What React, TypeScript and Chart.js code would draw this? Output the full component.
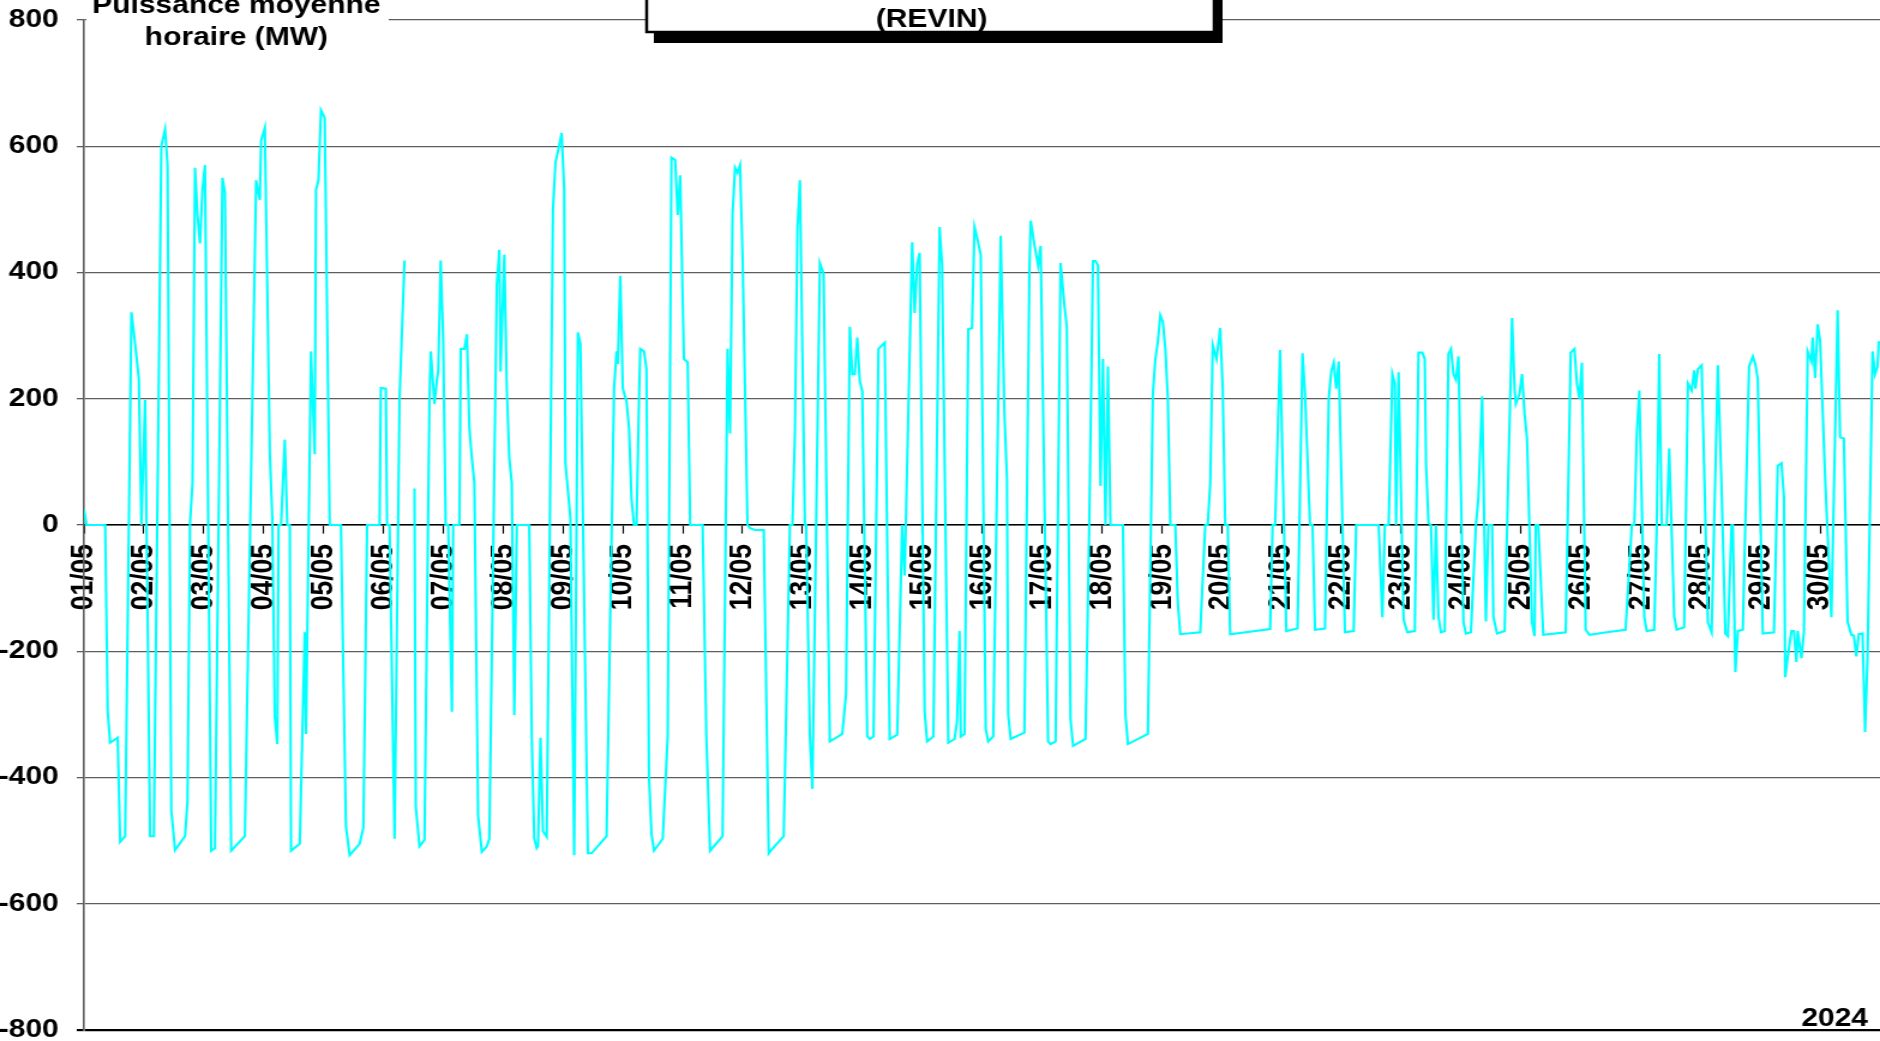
import React, { useEffect, useRef } from "react";
import { Chart, registerables } from "chart.js";

Chart.register(...registerables);

const FONT = "'Liberation Sans', Arial, sans-serif";

// Day tick labels (one tick every 24 h)
const dayLabels = [
  "01/05", "02/05", "03/05", "04/05", "05/05", "06/05", "07/05", "08/05", "09/05", "10/05",
  "11/05", "12/05", "13/05", "14/05", "15/05", "16/05", "17/05", "18/05", "19/05", "20/05",
  "21/05", "22/05", "23/05", "24/05", "25/05", "26/05", "27/05", "28/05", "29/05", "30/05",
];

const yTicks = [-800, -600, -400, -200, 0, 200, 400, 600, 800];

// Hourly mean power (MW), [hour since 01/05 00:00, MW]; null = missing hours
const week1: [number, number | null][] = [
  [0, 25], [1, 0], [8.5, 0], [9.5, -296], [10.5, -345], [13.5, -337], [14.5, -502], [16.5, -493],
  [19, 337], [20.5, 287], [22, 231], [23, 0], [24.5, 198], [26.5, -493], [28, -493], [31, 600],
  [32.5, 627], [33.5, 570], [35, -452], [36.5, -515], [40.5, -493], [41.5, -437], [42.5, 3], [43.5, 66],
  [44.5, 566], [45.5, 491], [46.5, 446], [47.5, 531], [48.5, 570], [51, -516], [52.5, -512], [55.5, 550],
  [56.5, 527], [59, -516], [64.5, -493], [69, 546], [70.5, 515], [71, 609], [72.5, 629], [74.5, 113],
  [75.5, 11], [76.5, -304], [77.5, -347], [78, 0], [79, 0], [80.5, 135], [81.5, 0], [82.5, 0],
  [83, -516], [86.5, -505], [88.5, -170], [89, -331], [91, 275], [92.5, 112], [93, 531], [94, 546],
  [95, 657], [96.5, 645], [98.5, 0], [103, 0], [105, -477], [106.5, -523], [110.5, -505], [112, -480],
  [113.5, 0], [118.5, 0], [119, 217], [121, 216], [121.5, 0], [122.5, 0], [124.5, -497], [126.5, 200],
  [128.5, 419], [130, null], [132.5, 58], [133, -446], [134.5, -509], [136.5, -499], [138.5, 200], [139, 275],
  [140.5, 192], [141.5, 231], [142, 243], [143, 419], [144, 294], [145, 0], [146, 0], [147.5, -296],
  [148, 0], [150.5, 0], [151, 279], [152.5, 279], [153.5, 302], [154.5, 153], [155.5, 106], [156.5, 66],
  [158, -461], [159.5, -518], [161.5, -509], [162.5, -497], [165.5, 381], [166.5, 436], [167, 243],
];

const week2: [number, number | null][] = [
  [168.5, 428], [169.5, 216], [170.5, 106], [171.5, 66], [172.5, -301], [173.5, 0], [178.5, 0], [179.5, -335],
  [180.5, -497], [181.5, -512], [182, -509], [183, -337], [184, -485], [185.5, -494], [188, 499], [189, 574],
  [190.5, 601], [191.5, 621], [192.5, 531], [193, 98], [195, 11], [196.5, -523], [198, 305], [199, 287],
  [202, -520], [203.5, -520], [209.5, -493], [212.5, 216], [213.5, 275], [214, 255], [215, 395], [216, 216],
  [217.5, 196], [218.5, 153], [219.5, 41], [220.5, 0], [221.5, 0], [222.5, 200], [223, 279], [224.5, 275],
  [225.5, 247], [226.5, -398], [227.5, -489], [228.5, -516], [232, -497], [234, -335], [235.5, 582], [237, 578],
  [238, 491], [239, 554], [240.5, 263], [242, 258], [243, 0], [248, 0], [249.5, -335], [251, -516],
  [256, -493], [258, 279], [259, 145], [260, 491], [261, 566], [262, 558], [263, 570], [264, 428],
  [266, 0], [267, -5], [269, -8], [272.5, -8], [274.5, -520], [275.5, -515], [280.5, -493], [283, 0],
  [284, 0], [285, 145], [286, 468], [287, 546], [289, 0], [289.5, 0], [291, -335], [292, -418],
  [295, 415], [296.5, 398], [299, -343], [304, -331], [305.5, -268], [307, 314], [308, 239], [309, 239],
  [310, 297], [311, 228], [312, 212], [314, -335], [315, -339], [316.5, -335], [318.5, 279], [319.5, 283],
  [321, 289], [323, -339], [326, -332], [328, 0], [329, -80], [332, 448], [333, 336], [334, 413], [335, 431],
];

const week3: [number, number | null][] = [
  [337, -296], [338, -343], [340.5, -335], [343, 472], [344, 413], [346.5, -345], [349, -339], [350, -312],
  [351, -168], [351.5, -335], [353, -331], [354.5, 310], [356, 312], [357, 472], [358, 456], [359.5, 428],
  [361.5, -324], [362.5, -343], [364.5, -335], [367.5, 458], [369, 176], [370, 74], [370.5, -300], [371.5, -339],
  [377, -329], [379, 401], [379.5, 482], [381, 444], [382.5, 411], [383.5, 442], [386.5, -343], [387.5, -347],
  [389.5, -343], [391.5, 415], [393, 350], [394, 314], [395.5, -308], [396.5, -350], [401.5, -339], [403, 0],
  [404.5, 418], [405.5, 418], [406.5, 411], [407.5, 62], [408.5, 263], [409.5, 0], [410.5, 251], [411.5, 0],
  [416.5, 0], [417.5, -300], [418.5, -347], [426.5, -331], [428.5, 208], [429.5, 263], [430.5, 291], [431.5, 332],
  [432.5, 322], [433.5, 279], [434.5, 200], [435.5, 0], [437.5, 0], [438.5, -123], [439.5, -173], [447.5, -170],
  [449.5, 0], [450.5, 0], [451.5, 66], [452.5, 285], [454, 263], [455.5, 312], [456.5, 216], [457.5, 0],
  [458.5, 0], [459.5, -173], [475.5, -165], [476.5, 0], [477.5, 0], [479.5, 277], [482, -168], [486.5, -164],
  [488.5, 272], [489.5, 208], [491.5, 0], [492.5, 0], [493.5, -166], [497.5, -164], [499, 200], [500, 243],
  [501, 257], [502, 216], [503, 259],
];

const week4: [number, number | null][] = [
  [505.5, -170], [509, -168], [510, 0], [519, 0], [520.5, -146], [521.5, 0], [523, 0], [524.5, 239],
  [525.5, 224], [526, 0], [527, 242], [529, -150], [530.5, -170], [533.5, -168], [535, 273], [536.5, 273],
  [537.5, 263], [538, 98], [539, 3], [540, 0], [541, -150], [542, 0], [543, -146], [544, -170],
  [545.5, -168], [547, 271], [548, 279], [549, 239], [550, 230], [551, 267], [553, -154], [554, -172],
  [556, -170], [558, 0], [559, 43], [560.5, 204], [562, -153], [563, 0], [564.5, 0], [565, -146],
  [566.5, -172], [569.5, -168], [572.5, 328], [573.5, 216], [574, 192], [575.5, 208], [576.5, 239], [577.5, 176],
  [578.5, 137], [580.5, -154], [581.5, -176], [582, 0], [583, 0], [585, -174], [594, -170], [596, 273],
  [597.5, 279], [598.5, 224], [599.5, 200], [600.5, 257], [602, -166], [603.5, -174], [610.5, -170], [618, -166],
  [620.5, 0], [621.5, 0], [622.5, 145], [623.5, 213], [625.5, -146], [626.5, -168], [629.5, -166], [630.5, 0],
  [631.5, 271], [632.5, 0], [634.5, 0], [635.5, 121], [637.5, -145], [638.5, -166], [641.5, -162], [643, 224],
  [644.5, 213], [645.5, 245], [646, 216], [647, 247], [648.5, 253], [651, -154], [652.5, -170], [655, 253],
  [656.5, 58], [658, -172], [659, -176], [660.5, 0], [661, 0], [662, -233], [663, -168], [665, -166],
  [667.5, 251], [669, 267], [670, 255], [671, 231],
];

const week5: [number, number | null][] = [
  [673, -172], [677.5, -170], [679, 94], [680.5, 98], [681.5, 43], [682, -241], [683, -209], [684.5, -168],
  [685.5, -168], [686.5, -217], [687, -168], [688.5, -211], [689.5, -170], [691, 275], [692.5, 259], [693, 297],
  [694, 233], [695, 318], [696, 291], [698, 74], [700.5, -146], [703, 340], [704, 139], [705.5, 137],
  [707, -153], [708.5, -174], [709.5, -175], [710.5, -208], [711.5, -173], [713, -172], [714, -328], [715, -209],
  [717, 275], [718, 239], [719, 251], [719.5, 291],
];

const titleLines = ["Puissance moyenne", "horaire (MW)"];
const chartTitle = "(REVIN)";
const yearLabel = "2024";

const CANVAS_W = 1567; // drawn width, shown stretched to 1880px
const CANVAS_H = 1041;

const overlayPlugin = {
  id: "overlay",
  afterDraw(chart: any) {
    const ctx = chart.ctx as CanvasRenderingContext2D;
    const area = chart.chartArea;
    ctx.save();
    // Y-axis title with white background over the top gridline
    ctx.fillStyle = "#ffffff";
    ctx.fillRect(area.left + 2, 0, 252, 52);
    ctx.fillStyle = "#000";
    ctx.font = `bold 25px ${FONT}`;
    ctx.textAlign = "center";
    ctx.textBaseline = "alphabetic";
    ctx.fillText(titleLines[0], 197, 13);
    ctx.fillText(titleLines[1], 197, 45);

    // Title box with shadow
    const bx0 = 539, bx1 = 1012, by0 = -20, by1 = 32;
    ctx.fillStyle = "#000";
    ctx.fillRect(bx0 + 6, by0, bx1 - bx0 + 1, by1 - by0 + 11);
    ctx.fillStyle = "#fff";
    ctx.fillRect(bx0, by0, bx1 - bx0, by1 - by0);
    ctx.strokeStyle = "#000";
    ctx.lineWidth = 2.5;
    ctx.strokeRect(bx0, by0, bx1 - bx0, by1 - by0);
    ctx.fillStyle = "#000";
    ctx.fillText(chartTitle, (bx0 + bx1) / 2 + 1, 27);

    // Year
    ctx.textAlign = "right";
    ctx.fillText(yearLabel, 1557, 1026);
    ctx.restore();
  },
};

export default function App() {
  const ref = useRef<HTMLCanvasElement | null>(null);

  useEffect(() => {
    const canvas = ref.current;
    if (!canvas) return;
    const points = [...week1, ...week2, ...week3, ...week4, ...week5].map(([h, v]) => ({ x: h, y: v }));

    const chart = new Chart(canvas, {
      type: "line",
      data: {
        datasets: [
          {
            data: points as any,
            borderColor: "#00FFFF",
            borderWidth: 2.1,
            pointRadius: 0,
            tension: 0,
            fill: false,
            spanGaps: false,
          },
        ],
      },
      options: {
        animation: false,
        responsive: false,
        maintainAspectRatio: false,
        devicePixelRatio: 1,
        layout: { padding: { top: 20, bottom: 11, left: 0, right: 0 } },
        plugins: { legend: { display: false }, tooltip: { enabled: false }, title: { display: false } },
        scales: {
          x: {
            type: "linear",
            min: 0,
            max: 720,
            position: { y: 0 } as any,
            afterBuildTicks: (s: any) => {
              s.ticks = dayLabels.map((_, i) => ({ value: i * 24 }));
            },
            afterFit: (s: any) => {
              s.paddingLeft = 0;
              s.paddingRight = 0;
            },
            ticks: {
              autoSkip: false,
              minRotation: 90,
              maxRotation: 90,
              padding: 11,
              color: "#000",
              font: { family: FONT, size: 26.5, weight: "bold" },
              callback: (v: any) => dayLabels[Math.round(Number(v) / 24)] ?? "",
            },
            grid: { drawOnChartArea: false, drawTicks: true, tickLength: 8, color: "#000", tickWidth: 1.2 },
            border: { color: "#000", width: 1.6 },
          },
          y: {
            type: "linear",
            min: yTicks[0],
            max: yTicks[yTicks.length - 1],
            position: "left",
            afterBuildTicks: (s: any) => {
              s.ticks = yTicks.map((v) => ({ value: v }));
            },
            afterFit: (s: any) => {
              s.width = 70;
              s.paddingTop = 0;
              s.paddingBottom = 0;
            },
            ticks: {
              padding: 15,
              color: "#000",
              font: { family: FONT, size: 25, weight: "bold" },
            },
            grid: {
              color: (c: any) => (c.tick && c.tick.value === -800 ? "#000" : "#5e5e5e"),
              lineWidth: (c: any) => (c.tick && c.tick.value === -800 ? 2.2 : 1.3),
              tickLength: 6,
              drawTicks: true,
            },
            border: { color: "#5e5e5e", width: 1.6 },
          },
        },
      } as any,
      plugins: [overlayPlugin],
    });
    return () => chart.destroy();
  }, []);

  return (
    <div style={{ position: "fixed", left: 0, top: 0, width: 1880, height: 1041, background: "#fff", overflow: "hidden" }}>
      <canvas
        ref={ref}
        width={CANVAS_W}
        height={CANVAS_H}
        style={{ width: "1880px", height: "1041px", display: "block" }}
      />
    </div>
  );
}
